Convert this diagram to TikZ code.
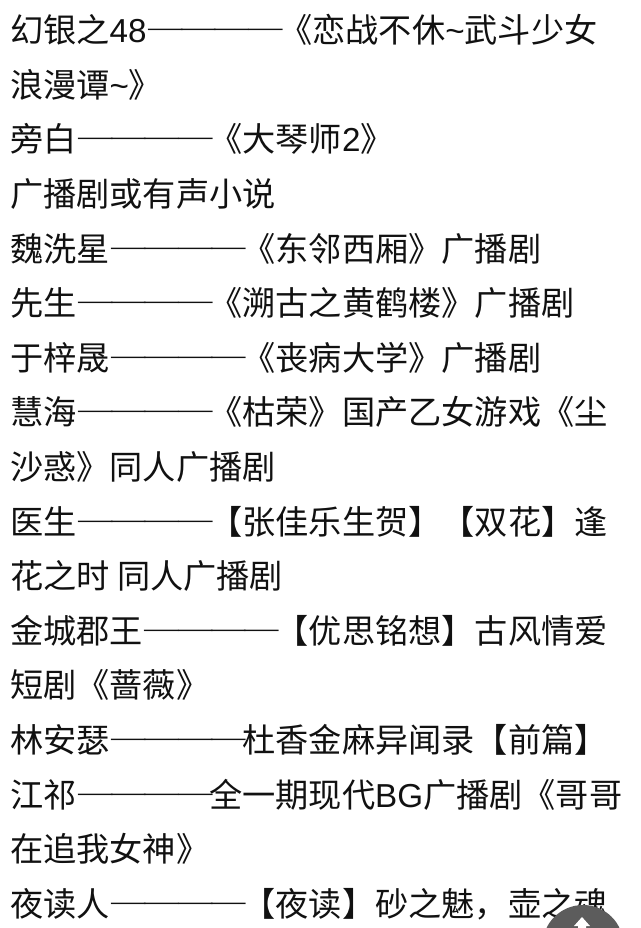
\documentclass[tikz,border=0pt]{standalone}
\usepackage{graphicx}
\usepackage{fontspec}
\setmainfont{Noto Sans CJK SC}
\newfontfamily\fwdash[CharacterWidth=Full]{Noto Sans CJK SC}
\newfontfamily\lat{Liberation Sans}
\newcommand{\onedash}{\makebox[1em][c]{\scalebox{1.22}[1]{\fwdash —}}}
\newcommand{\dd}{\kern0.08em\onedash\onedash\onedash\onedash\kern-0.08em}
\newcommand{\tld}{{\lat\char"7E\relax}}
\definecolor{txt}{HTML}{111111}
\definecolor{btn}{HTML}{5C5C5C}
\tikzset{
  textline/.style={anchor=base west, inner sep=0pt, outer sep=0pt, text=txt,
    font=\fontsize{33.2}{40}\selectfont}
}
\begin{document}
\begin{tikzpicture}[x=1pt,y=-1pt]
\useasboundingbox (0,0) rectangle (640,928);
\fill[white] (0,0) rectangle (640,928);
\node[textline] (l1)  at (10, 42.7) {幻银之{\lat 48}\dd《恋战不休\tld 武斗少女};
\node[textline] (l2)  at (10, 97.3) {浪漫谭\tld》};
\node[textline] (l3)  at (10,151.9) {旁白\dd《大琴师{\lat 2}》};
\node[textline] (l4)  at (10,206.5) {广播剧或有声小说};
\node[textline] (l5)  at (10,261.1) {魏洗星\dd《东邻西厢》广播剧};
\node[textline] (l6)  at (10,315.7) {先生\dd《溯古之黄鹤楼》广播剧};
\node[textline] (l7)  at (10,370.3) {于梓晟\dd《丧病大学》广播剧};
\node[textline] (l8)  at (10,424.9) {慧海\dd《枯荣》国产乙女游戏《尘};
\node[textline] (l9)  at (10,479.5) {沙惑》同人广播剧};
\node[textline] (l10) at (10,534.1) {医生\dd【张佳乐生贺】【双花】逢};
\node[textline] (l11) at (10,588.7) {花之时 同人广播剧};
\node[textline] (l12) at (10,643.3) {金城郡王\dd【优思铭想】古风情爱};
\node[textline] (l13) at (10,697.9) {短剧《蔷薇》};
\node[textline] (l14) at (10,752.5) {林安瑟\dd 杜香金麻异闻录【前篇】};
\node[textline] (l15) at (10,807.1) {江祁\dd 全一期现代{\lat BG}广播剧《哥哥};
\node[textline] (l16) at (10,861.7) {在追我女神》};
\node[textline] (l17) at (10,916.3) {夜读人\dd【夜读】砂之魅，壶之魂};
\fill[btn] (583,945.5) circle (40.5);
\fill[white] (582,917) -- (590,926) -- (586,926) -- (586,928) -- (578,928) -- (578,926) -- (574,926) -- cycle;
\end{tikzpicture}
\end{document}
